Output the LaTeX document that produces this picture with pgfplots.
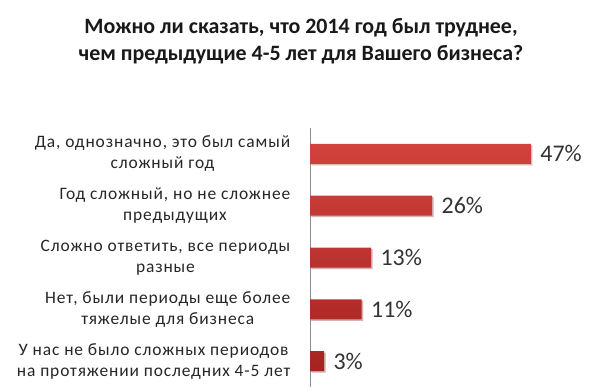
\documentclass[border=0pt]{standalone}
\usepackage{pgfplots}
\pgfplotsset{compat=1.18}
\usepackage{fontspec}
\setmainfont{Carlito}
\newfontfamily\lab[LetterSpace=5]{Carlito}
\usetikzlibrary{shadows}
\definecolor{barTop}{RGB}{210,66,60}
\definecolor{barBot}{RGB}{165,36,34}
\begin{document}
\begin{tikzpicture}[x=1bp,y=1bp]
\path[use as bounding box] (0,0) rectangle (600,391);
\node[font=\fontsize{22}{27}\selectfont\bfseries, align=center, text=black!90] at (301,349.5) {Можно ли сказать, что 2014 год был труднее,\\чем предыдущие 4-5 лет для Вашего бизнеса?};
\begin{axis}[
 at={(310bp,4bp)}, anchor=south west,
 width=282bp, height=259bp, scale only axis,
 xmin=0, xmax=60, ymin=-0.5, ymax=4.5, y dir=reverse,
 xbar, bar width=20bp,
 axis x line=none, axis y line*=left,
 y axis line style={-, draw=black!45},
 ytick={0,1,2,3,4},
 yticklabels={{Да, однозначно, это был самый\\сложный год},
   {Год сложный, но не сложнее\\предыдущих},
   {Сложно ответить, все периоды\\разные},
   {Нет, были периоды еще более\\тяжелые для бизнеса},
   {У нас не было сложных периодов\\на протяжении последних 4-5 лет}},
 ytick style={draw=none},
 yticklabel style={align=center, font=\lab\fontsize{17.5}{21}\selectfont, text=black!85, xshift=-12bp},
 /pgf/number format/assume math mode=true,
 nodes near coords={\pgfmathprintnumber{\pgfplotspointmeta}\%},
 point meta=x,
 nodes near coords style={font=\fontsize{24}{26}\selectfont, text=black!80, xshift=6bp},
 clip=false,
]
\addplot[draw=none, top color=barTop, bottom color=barBot, drop shadow={opacity=0.25, shadow xshift=1.5bp, shadow yshift=-1.5bp}] coordinates {(47,0) (26,1) (13,2) (11,3) (3,4)};
\end{axis}
\end{tikzpicture}
\end{document}
